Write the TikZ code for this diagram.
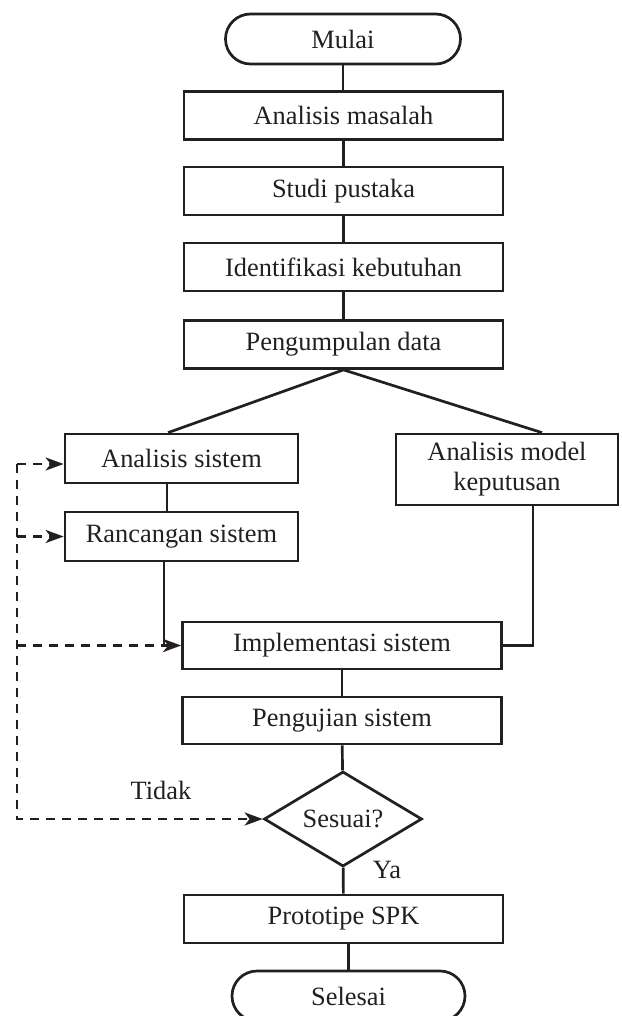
\documentclass[tikz,border=0pt]{standalone}
\usepackage{fontspec}
\setmainfont{Liberation Serif}
\usetikzlibrary{arrows.meta,shapes.geometric,calc}
\definecolor{ink}{HTML}{231F20}
\begin{document}
\begin{tikzpicture}[x=1pt,y=-1pt,
  every node/.style={font=\fontsize{26.4}{30}\selectfont, text=ink},
  box/.style={draw=ink, line width=2.7pt, inner sep=0pt, minimum width=319pt, minimum height=48pt, align=center},
  term/.style={box, rounded corners=25pt, minimum width=235pt, minimum height=50pt},
  decision/.style={draw=ink, diamond, line width=2.7pt, inner sep=0pt, minimum width=158pt, minimum height=95pt, aspect=1.66},
  solidline/.style={draw=ink, line width=2.7pt},
  dashline/.style={draw=ink, line width=2.7pt, dash pattern=on 9pt off 7pt},
  arr/.style={-{Stealth[length=18pt,width=13pt,inset=5pt]}},
]
\useasboundingbox (0,0) rectangle (621,1016);
% main column
\node[term] (mulai) at (343,39) {Mulai};
\node[box] (am) at (343.5,115.5) {Analisis masalah};
\node[box] (sp) at (343.5,191) {Studi pustaka};
\node[box] (ik) at (343.5,267) {Identifikasi kebutuhan};
\node[box] (pd) at (343.5,344.5) {Pengumpulan data};
\node[box, minimum width=233pt, minimum height=49pt] (as) at (181.5,458.5) {Analisis sistem};
\node[box, minimum width=233pt, minimum height=49pt] (rs) at (181.5,536.5) {Rancangan sistem};
\node[box, minimum width=222pt, minimum height=71pt] (amk) at (507,469.5) {Analisis model\\keputusan};
\node[box, minimum height=47pt] (is) at (342,645.5) {Implementasi sistem};
\node[box, minimum height=47pt] (ps) at (342,720.5) {Pengujian sistem};
\node[decision] (dia) at (343,819) {Sesuai?};
\node[box] (proto) at (343.5,919) {Prototipe SPK};
\node[term, minimum width=233pt] (sel) at (348.5,996) {Selesai};
% labels
\node (tidak) at (161,790) {Tidak};
\node (ya) at (387,870) {Ya};
% connectors
\draw[solidline] (mulai.south) -- (mulai.south |- am.north);
\draw[solidline] (am) -- (sp);
\draw[solidline] (sp) -- (ik);
\draw[solidline] (ik) -- (pd);
\coordinate (asin) at ([xshift=-13.5pt]as.north);
\coordinate (amkin) at ([xshift=35pt]amk.north);
\draw[solidline] (asin) -- (pd.south) -- (amkin);
\coordinate (c1) at ([xshift=-14.5pt]as.south);
\draw[solidline] (c1) -- (c1 |- rs.north);
\coordinate (c2) at ([xshift=-17.5pt]rs.south);
\draw[solidline] (c2) -- (c2 |- is.west);
\coordinate (c3) at ([xshift=26pt]amk.south);
\draw[solidline] (c3) |- (is.east);
\draw[solidline] (is) -- (ps);
\draw[solidline] (ps) -- (dia);
\draw[solidline] (dia) -- (proto);
\draw[solidline] (proto.south -| sel.north) -- (sel.north);
% dashed feedback loop
\coordinate (L) at (17,0);
\coordinate (a1) at ([yshift=-5.5pt]as.west);
\draw[dashline, arr] (a1 -| L) |- (dia.west);
\draw[dashline, arr] (a1 -| L) -- (a1);
\draw[dashline, arr] (rs.west -| L) -- (rs.west);
\draw[dashline, arr] (is.west -| L) -- (is.west);
\end{tikzpicture}
\end{document}
